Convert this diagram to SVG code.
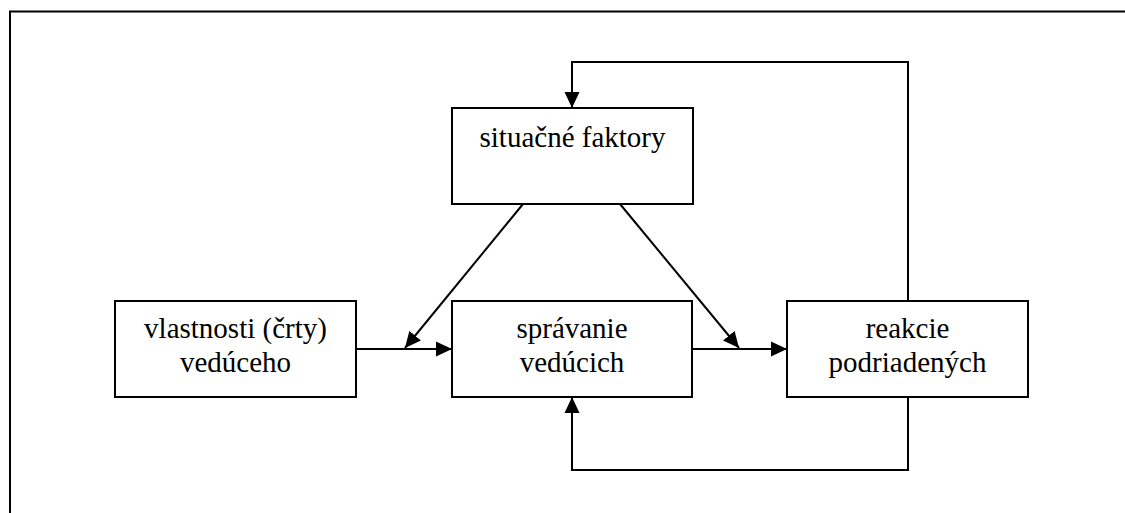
<svg xmlns="http://www.w3.org/2000/svg" width="1125" height="513" viewBox="0 0 1125 513">
  <style>
    .box { fill: #fff; stroke: #000; stroke-width: 2; }
    .lbl { font-family: "Liberation Serif", "Times New Roman", serif; font-size: 29px; fill: #000; text-anchor: middle; }
    .wire { fill: none; stroke: #000; stroke-width: 2; }
    .frame { fill: none; stroke: #000; stroke-width: 2; }
  </style>
  <defs>
    <marker id="arrow" markerWidth="16" markerHeight="16" refX="16" refY="8" orient="auto" markerUnits="userSpaceOnUse">
      <path d="M0,0.5 L16,8 L0,15.5 Z" fill="#000"/>
    </marker>
  </defs>

  <rect width="1125" height="513" fill="#fff"/>
  <!-- page frame (only top and left edges fall inside the view) -->
  <path class="frame" d="M10,513 V11.5 H1125"/>

  <g id="connectors">
    <!-- feedback from reactions to situational factors -->
    <path class="wire" d="M908,301 V62 H572 V108" marker-end="url(#arrow)"/>
    <!-- feedback from reactions to leader behaviour -->
    <path class="wire" d="M908,397 V470 H572 V397" marker-end="url(#arrow)"/>
    <!-- traits -> behaviour -->
    <path class="wire" d="M356,349 H452" marker-end="url(#arrow)"/>
    <!-- behaviour -> reactions -->
    <path class="wire" d="M692,349 H787" marker-end="url(#arrow)"/>
    <!-- situational factors moderating both links -->
    <path class="wire" d="M523,204 L405,348" marker-end="url(#arrow)"/>
    <path class="wire" d="M620,204 L739,348" marker-end="url(#arrow)"/>
  </g>

  <g id="situacne-faktory">
    <rect class="box" x="452" y="108" width="241" height="96"/>
    <text class="lbl" x="572.5" y="146.5">situačné faktory</text>
  </g>

  <g id="vlastnosti">
    <rect class="box" x="115" y="301" width="241" height="96"/>
    <text class="lbl" x="235.5" y="338">vlastnosti (črty)</text>
    <text class="lbl" x="235.5" y="371.5">vedúceho</text>
  </g>

  <g id="spravanie">
    <rect class="box" x="452" y="301" width="240" height="96"/>
    <text class="lbl" x="572" y="338">správanie</text>
    <text class="lbl" x="572" y="371.5">vedúcich</text>
  </g>

  <g id="reakcie">
    <rect class="box" x="787" y="301" width="241" height="96"/>
    <text class="lbl" x="907.5" y="338">reakcie</text>
    <text class="lbl" x="907.5" y="371.5">podriadených</text>
  </g>
</svg>
